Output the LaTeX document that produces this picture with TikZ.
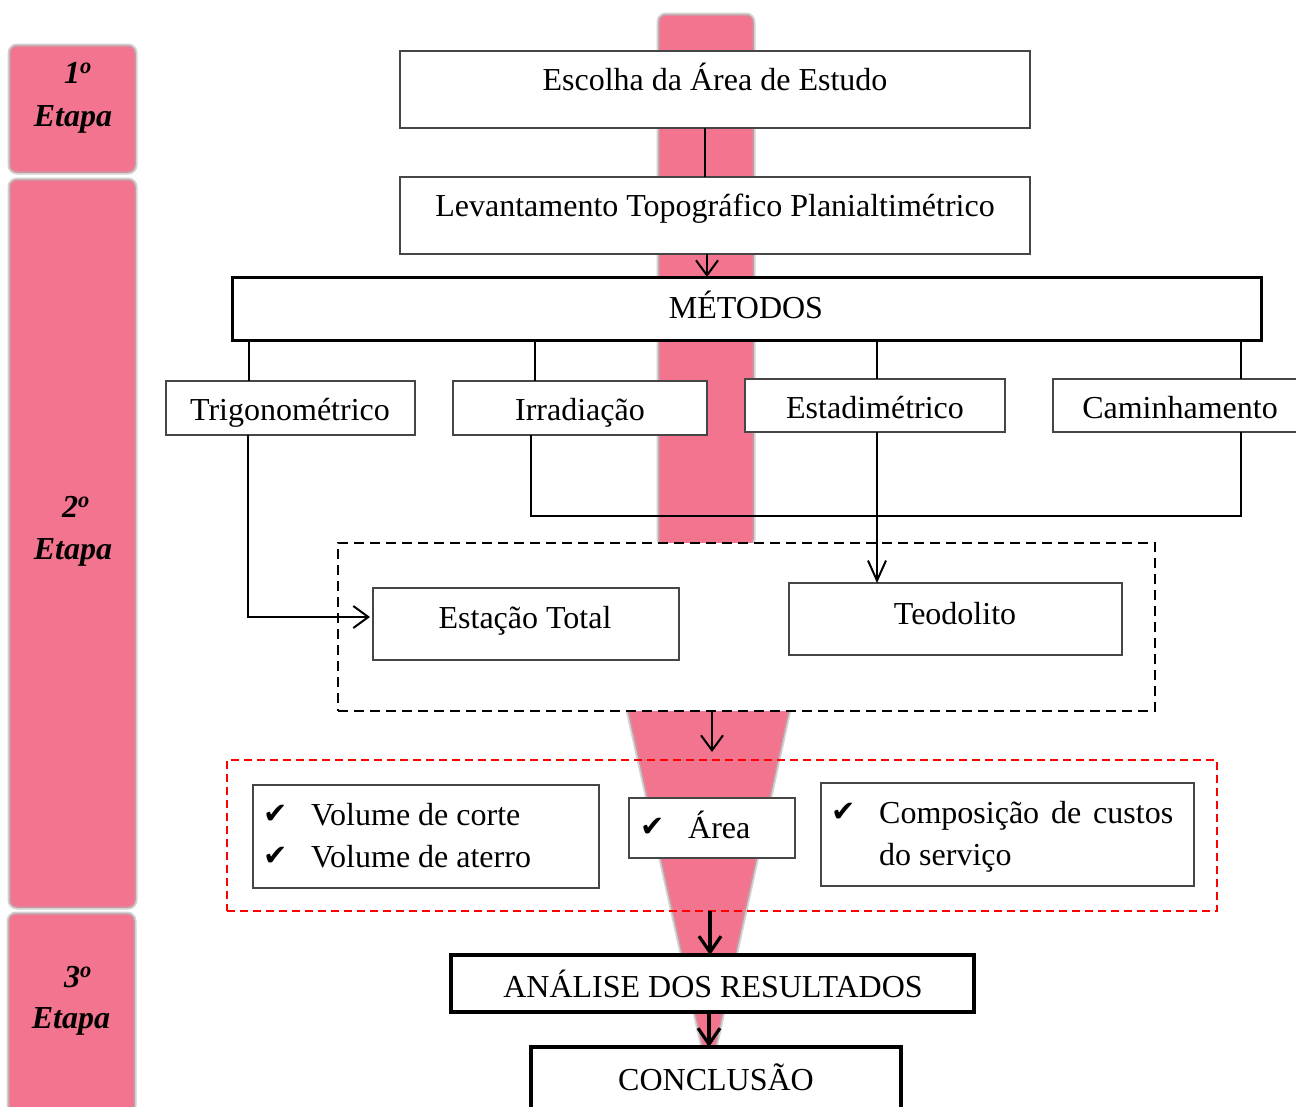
\documentclass[tikz,border=0pt]{standalone}
\usepackage{fontspec}
\setmainfont{Liberation Serif}
\newfontfamily\symfont{DejaVu Sans}
\usetikzlibrary{arrows.meta}
\definecolor{pinkb}{RGB}{242,116,143}
\definecolor{boxgray}{RGB}{70,70,70}
\begin{document}
\begin{tikzpicture}[x=1pt,y=-1pt,
  box/.style={draw=boxgray,line width=1.3pt,fill=white,anchor=north west,inner sep=0pt,outer sep=0pt},
  thickbox/.style={box,draw=black,line width=3pt},
  heavybox/.style={box,draw=black,line width=4.5pt},
  txt/.style={anchor=base,inner sep=0pt,font=\fontsize{32}{38}\selectfont},
  ltxt/.style={anchor=base west,inner sep=0pt,font=\fontsize{32}{38}\selectfont},
  stxt/.style={anchor=base,inner sep=0pt,font=\fontsize{32}{38}\selectfont\bfseries\itshape},
  chk/.style={anchor=base west,inner sep=0pt,font=\fontsize{29}{34}\symfont},
  band/.style={fill=pinkb,draw={rgb,255:red,205;green,150;blue,160},line width=1.5pt,preaction={draw=gray!35,line width=5pt}},
  stage/.style={band,rounded corners=7pt,anchor=north west,inner sep=0pt,outer sep=0pt},
  conn/.style={draw=black,line width=2pt},
  arr/.style={conn,-{Straight Barb[length=15pt,width=22pt]}},
  arrthick/.style={draw=black,line width=3.2pt,-{Straight Barb[length=16pt,width=22pt]}},
  dbx/.style={box,draw=black,line width=2.3pt,dash pattern=on 10pt off 6pt},
  rbx/.style={draw=red,line width=2.2pt,dash pattern=on 8pt off 5pt,anchor=north west,inner sep=0pt,outer sep=0pt},
]
\useasboundingbox (0,0) rectangle (1296,1106);
\clip (0,0) rectangle (1296,1106);
\fill[white] (0,0) rectangle (1296,1106);

% pink band and funnel
\path[band,rounded corners=7pt] (659,15) rectangle (753,546);
\path[band] (627,705) -- (790,705) -- (709,1075) -- cycle;

% stage boxes
\node[stage,minimum width=125pt,minimum height=126pt] (s1) at (10,46) {};
\node[stage,minimum width=125pt,minimum height=727pt] (s2) at (10,180) {};
\node[stage,minimum width=125pt,minimum height=230pt] (s3) at (9,914) {};
\node[stxt] (s1a) at (78,83) {1\textsuperscript{o}};
\node[stxt] (s1b) at (73,126) {Etapa};
\node[stxt] (s2a) at (76,517) {2\textsuperscript{o}};
\node[stxt] (s2b) at (73,559) {Etapa};
\node[stxt] (s3a) at (78,987) {3\textsuperscript{o}};
\node[stxt] (s3b) at (71,1028) {Etapa};

% main boxes
\node[box,minimum width=630pt,minimum height=77pt] (esc) at (400,51) {};
\node[box,minimum width=630pt,minimum height=77pt] (lev) at (400,177) {};
\node[thickbox,minimum width=1029pt,minimum height=63pt] (met) at (232,277) {};
\node[box,minimum width=249pt,minimum height=54pt] (trig) at (166,381) {};
\node[box,minimum width=254pt,minimum height=54pt] (irr) at (453,381) {};
\node[box,minimum width=260pt,minimum height=53pt] (est) at (745,379) {};
\node[box,minimum width=260pt,minimum height=53pt] (cam) at (1053,379) {};
\node[dbx,minimum width=817pt,minimum height=168pt] (dbox) at (338,543) {};
\node[box,minimum width=306pt,minimum height=72pt] (etot) at (373,588) {};
\node[box,minimum width=333pt,minimum height=72pt] (teo) at (789,583) {};
\node[rbx,minimum width=990pt,minimum height=151pt] (rbox) at (227,760) {};
\node[box,minimum width=346pt,minimum height=103pt] (vol) at (253,785) {};
\node[box,minimum width=166pt,minimum height=60pt] (area) at (629,798) {};
\node[box,minimum width=373pt,minimum height=103pt] (comp) at (821,783) {};
\node[heavybox,minimum width=523pt,minimum height=57pt] (ana) at (451,955) {};
\node[heavybox,minimum width=370pt,minimum height=90pt] (conc) at (531,1047) {};

% texts
\node[txt] (tesc) at (715,90) {Escolha da Área de Estudo};
\node[txt] (tlev) at (715,216) {Levantamento Topográfico Planialtimétrico};
\node[txt] (tmet) at (746,318) {MÉTODOS};
\node[txt] (ttrig) at (290,420) {Trigonométrico};
\node[txt] (tirr) at (580,420) {Irradiação};
\node[txt] (test) at (875,418) {Estadimétrico};
\node[txt] (tcam) at (1180,418) {Caminhamento};
\node[txt] (tetot) at (525,628) {Estação Total};
\node[txt] (tteo) at (955,624) {Teodolito};
\node[chk] (k1) at (263,823) {✔};
\node[ltxt] (tv1) at (311,825) {Volume de corte};
\node[chk] (k2) at (263,865) {✔};
\node[ltxt] (tv2) at (311,867) {Volume de aterro};
\node[chk] (k3) at (640,836) {✔};
\node[ltxt] (tar) at (688,838) {Área};
\node[chk] (k4) at (831,821) {✔};
\node[ltxt] (tc1) at (879,823) {\hbox to 294pt{Composição\hfill de\hfill custos}};
\node[ltxt] (tc2) at (879,865) {do serviço};
\node[txt] (tana) at (713,997) {ANÁLISE DOS RESULTADOS};
\node[txt] (tconc) at (716,1090) {CONCLUSÃO};

% connectors
\coordinate (c1) at ([xshift=-10pt]esc.south);
\draw[conn] (c1) -- (c1 |- lev.north);
\coordinate (c2) at ([xshift=-8pt]lev.south);
\draw[arr] (c2) -- (c2 |- met.north);
\coordinate (m1) at ([xshift=83pt]trig.north west);
\draw[conn] (m1 |- met.south) -- (m1);
\coordinate (m2) at ([xshift=82pt]irr.north west);
\draw[conn] (m2 |- met.south) -- (m2);
\coordinate (m3) at ([xshift=132pt]est.north west);
\draw[conn] (m3 |- met.south) -- (m3);
\coordinate (m4) at ([xshift=188pt]cam.north west);
\draw[conn] (m4 |- met.south) -- (m4);
\coordinate (t1) at ([xshift=82pt]trig.south west);
\draw[arr] (t1) |- ([xshift=-3pt,yshift=7pt]etot.west);
\coordinate (i1) at ([xshift=78pt]irr.south west);
\coordinate (q1) at ([xshift=188pt]cam.south west);
\draw[conn] (i1) -- ++(0,81) -| (q1);
\coordinate (e1) at ([xshift=132pt]est.south west);
\draw[arr,-{Straight Barb[length=20pt,width=18pt]}] (e1) -- (e1 |- teo.north);
\coordinate (d1) at ([xshift=-34.5pt]dbox.south);
\draw[arr] (d1) -- ([yshift=8pt]d1 |- rbox.north);
\coordinate (r1) at ([xshift=-12pt]rbox.south);
\draw[arrthick] (r1) -- (r1 |- ana.north);
\coordinate (a1) at ([xshift=-3.5pt]ana.south);
\draw[arrthick] (a1) -- (a1 |- conc.north);
\end{tikzpicture}
\end{document}
